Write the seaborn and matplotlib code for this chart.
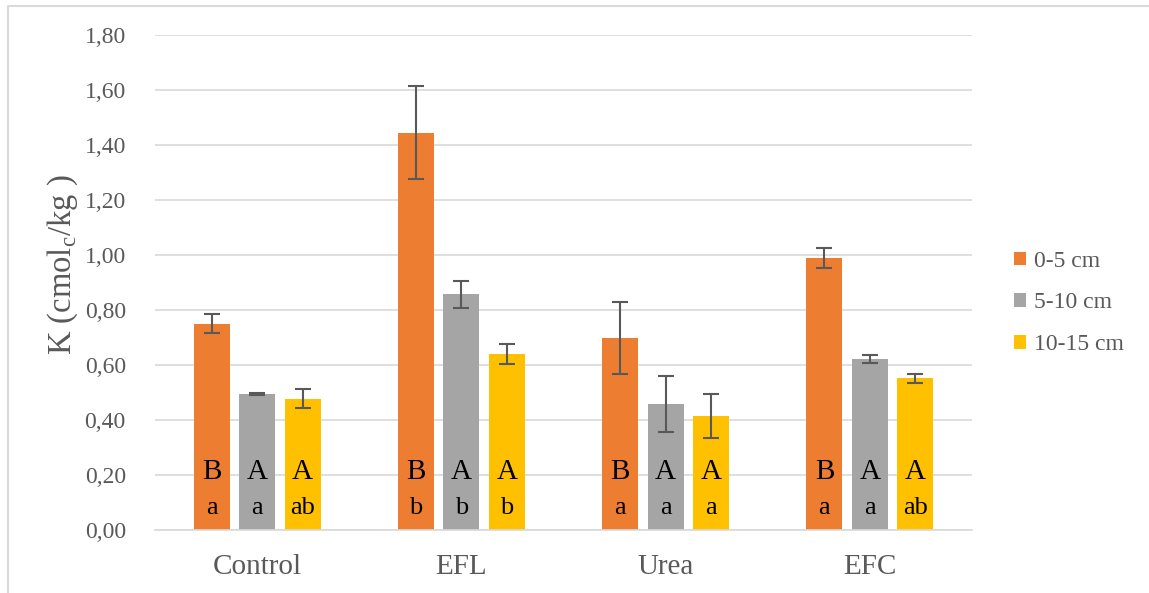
import numpy as np
import pandas as pd
import matplotlib
matplotlib.use("Agg")
import matplotlib.pyplot as plt
import seaborn as sns

categories = ["Control", "EFL", "Urea", "EFC"]
depths = ["0-5 cm", "5-10 cm", "10-15 cm"]
vals_0_5 = [0.75, 1.445, 0.698, 0.989]
vals_5_10 = [0.495, 0.857, 0.458, 0.622]
vals_10_15 = [0.478, 0.640, 0.415, 0.551]
err_0_5 = [0.035, 0.17, 0.13, 0.035]
err_5_10 = [0.004, 0.05, 0.103, 0.013]
err_10_15 = [0.036, 0.038, 0.08, 0.016]
upper_0_5 = ["B", "B", "B", "B"]
upper_5_10 = ["A", "A", "A", "A"]
upper_10_15 = ["A", "A", "A", "A"]
lower_0_5 = ["a", "b", "a", "a"]
lower_5_10 = ["a", "b", "a", "a"]
lower_10_15 = ["ab", "b", "a", "ab"]
yticks = [0.0, 0.2, 0.4, 0.6, 0.8, 1.0, 1.2, 1.4, 1.6, 1.8]

colors = ["#ED7D31", "#A5A5A5", "#FFC000"]

rows = []
for d, vals in zip(depths, [vals_0_5, vals_5_10, vals_10_15]):
    for c, v in zip(categories, vals):
        rows.append({"cat": c, "depth": d, "val": v})
df = pd.DataFrame(rows)

sns.set_theme(style="white")
plt.rcParams["font.family"] = ["Liberation Serif", "DejaVu Serif"]

fig = plt.figure(figsize=(11.49, 5.93), dpi=100)
ax = fig.add_axes([155/1149, 63/593, 817/1149, 495/593])

sns.barplot(data=df, x="cat", y="val", hue="depth", order=categories,
            hue_order=depths, palette=colors, width=0.668, gap=0.21,
            errorbar=None, saturation=1, ax=ax, legend=True, linewidth=0)

errs = [err_0_5, err_5_10, err_10_15]
uppers = [upper_0_5, upper_5_10, upper_10_15]
lowers = [lower_0_5, lower_5_10, lower_10_15]
vals_all = [vals_0_5, vals_5_10, vals_10_15]
bar_conts = list(ax.containers)
for i, cont in enumerate(bar_conts):
    xs = [p.get_x() + p.get_width() / 2 for p in cont.patches]
    ax.errorbar(xs, vals_all[i], yerr=errs[i], fmt="none", ecolor="#595959",
                elinewidth=1.5, capsize=6, capthick=1.5, zorder=5)
    for x, u, l in zip(xs, uppers[i], lowers[i]):
        ax.text(x, 0.21, u, ha="center", va="center", fontsize=21, color="black")
        ax.text(x, 0.08, l, ha="center", va="center", fontsize=19, color="black")

ax.set_ylim(0, 1.8)
ax.set_xlim(-0.5, 3.5)
ax.set_yticks(yticks)
ax.set_yticklabels([f"{t:.2f}".replace(".", ",") for t in yticks])
ax.yaxis.grid(True, color="#d9d9d9", linewidth=1.2)
ax.set_axisbelow(True)
for s in ["top", "right", "left"]:
    ax.spines[s].set_visible(False)
ax.spines["bottom"].set_color("#d9d9d9")
ax.spines["bottom"].set_linewidth(1.2)
ax.tick_params(axis="y", length=0, labelsize=17, labelcolor="#595959", pad=21)
ax.tick_params(axis="x", length=0, labelsize=21, labelcolor="#595959", pad=17)
ax.set_xlabel("")
ax.set_ylabel("K (cmol$_\\mathregular{c}$/kg )", fontsize=23.5, color="#595959")
ax.yaxis.set_label_coords(-0.092, 0.535)

handles, labels = ax.get_legend_handles_labels()
ax.legend(handles, labels, loc="center left", bbox_to_anchor=(993/1149, 1 - 303/593),
          bbox_transform=fig.transFigure, frameon=False, fontsize=17,
          handlelength=0.5, handleheight=0.5, handletextpad=0.35,
          labelspacing=0.88, labelcolor="#595959")

fig.lines.append(plt.Line2D([8/1149, 8/1149, 1.0], [0, 1 - 6/593, 1 - 6/593],
                            transform=fig.transFigure, color="#d9d9d9", linewidth=1.5))

fig.savefig("out.png", dpi=100)
